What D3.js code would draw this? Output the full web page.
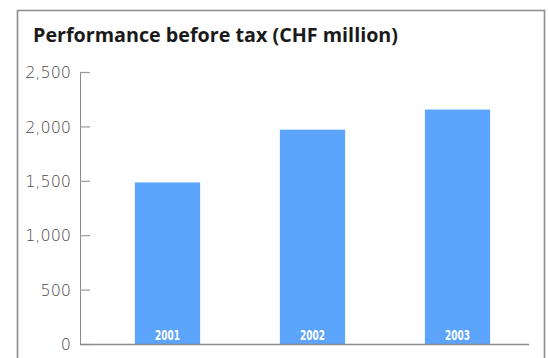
<!DOCTYPE html>
<html>
<head>
<meta charset="utf-8">
<script src="https://cdn.jsdelivr.net/npm/d3@7"></script>
<style>
  html, body { margin: 0; padding: 0; background: #fff; }
  svg { display: block; }
</style>
</head>
<body>
<svg id="chart" width="548" height="358"></svg>
<script>
// Performance before tax, CHF million
const years = ["2001", "2002", "2003"];
const performance = [1485, 1970, 2155];
const yTicks = [0, 500, 1000, 1500, 2000, 2500];
const title = "Performance before tax (CHF million)";

const svg = d3.select("#chart");
const W = 548, H = 358;

// outer frame (open at the bottom edge)
svg.append("path")
  .attr("d", `M17.5,${H} V10.5 H544.5 V${H}`)
  .attr("fill", "none")
  .attr("stroke", "#8c8c8c")
  .attr("stroke-width", 1.6);

// title
svg.append("text")
  .attr("x", 33)
  .attr("y", 42)
  .attr("font-family", "'Open Sans', 'DejaVu Sans', sans-serif")
  .attr("font-weight", 700)
  .attr("font-size", 19)
  .attr("fill", "#1a1a1a")
  .attr("textLength", 365)
  .attr("lengthAdjust", "spacingAndGlyphs")
  .text(title);

const y = d3.scaleLinear().domain([0, 2500]).range([344, 72]);
const x = d3.scaleBand().domain(years).range([95, 530])
  .paddingInner(0.55).paddingOuter(0.275);

// bars
svg.append("g").selectAll("rect")
  .data(years.map((yr, i) => ({ yr, v: performance[i] })))
  .join("rect")
  .attr("x", d => x(d.yr))
  .attr("y", d => y(d.v))
  .attr("width", x.bandwidth())
  .attr("height", d => y(0) - y(d.v))
  .attr("fill", "#5ca4fc");

// year labels inside bars, narrow set
svg.append("g").selectAll("text")
  .data(years)
  .join("text")
  .attr("x", d => x(d) + x.bandwidth() / 2)
  .attr("y", 340)
  .attr("text-anchor", "middle")
  .attr("font-family", "'DejaVu Sans', sans-serif")
  .attr("font-weight", 600)
  .attr("font-size", 14)
  .attr("fill", "#fff")
  .attr("textLength", 25)
  .attr("lengthAdjust", "spacingAndGlyphs")
  .text(d => d);

// y axis with inward ticks
const yAxis = d3.axisRight(y)
  .tickValues(yTicks)
  .tickSize(10)
  .tickFormat(d3.format(","));
const gy = svg.append("g").attr("transform", "translate(80,0)").call(yAxis);
gy.select(".domain").attr("stroke", "#8c8c8c").attr("d", `M0.5,${y(2500)}V${y(0)}`);
gy.selectAll(".tick line").attr("stroke", "#9a9a9a").attr("stroke-width", 1.2);
gy.selectAll(".tick text")
  .attr("x", -9)
  .attr("dy", "0.35em")
  .attr("text-anchor", "end")
  .attr("font-family", "'DejaVu Sans', sans-serif")
  .attr("font-weight", 300)
  .attr("font-size", 16)
  .attr("fill", "#4a4a4a");

// baseline
svg.append("line")
  .attr("x1", 80).attr("x2", 529)
  .attr("y1", y(0) + 0.5).attr("y2", y(0) + 0.5)
  .attr("stroke", "#8c8c8c")
  .attr("stroke-width", 1.4);
</script>
</body>
</html>
